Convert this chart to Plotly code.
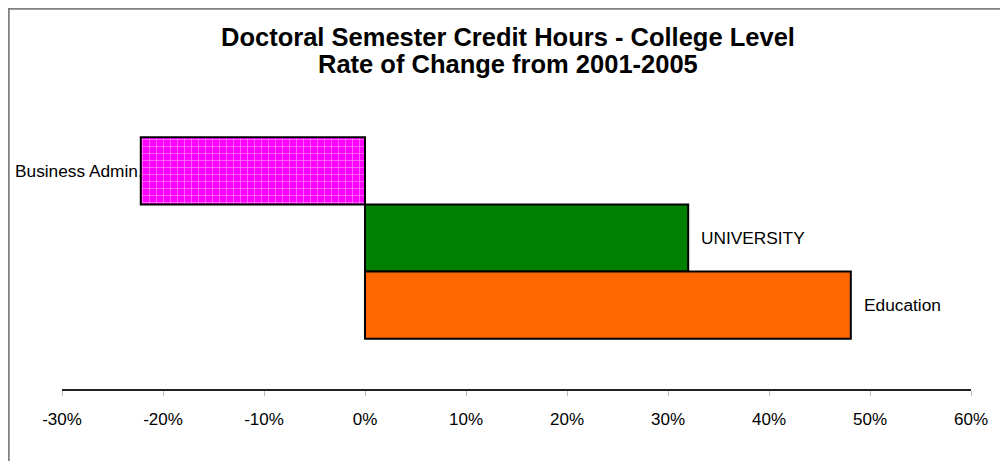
import plotly.graph_objects as go

categories = ["Business Admin.", "UNIVERSITY", "Education"]
rates = [-0.222, 0.320, 0.481]
bar_colors = ["#FF00FF", "#008000", "#FF6600"]
bar_patterns = ["+", "", ""]
tick_values = [-0.3, -0.2, -0.1, 0.0, 0.1, 0.2, 0.3, 0.4, 0.5, 0.6]
tick_labels = ["-30%", "-20%", "-10%", "0%", "10%", "20%", "30%", "40%", "50%", "60%"]
title_lines = ["Doctoral Semester Credit Hours - College Level", "Rate of Change from 2001-2005"]

# page has an 8px body margin, so the figure is drawn at (8, 8)
W, H = 1000, 453
L, R, T, B = 54, 37, 79, 72
pw, ph = W - L - R, H - T - B

fig = go.Figure()
fig.add_trace(go.Bar(
    y=categories, x=rates, orientation="h", width=1,
    marker=dict(color=bar_colors, line=dict(color="black", width=2),
                pattern=dict(shape=bar_patterns, fgcolor="white", bgcolor="#FF00FF",
                             size=7, solidity=0.2, fillmode="overlay")),
    hoverinfo="skip",
))

for c, v in zip(categories, rates):
    fig.add_annotation(
        x=v, y=c, text=c, showarrow=False,
        xanchor="left" if v >= 0 else "right",
        xshift=11 if v >= 0 else 4,
        font=dict(family="Liberation Sans, Arial", size=17.3, color="black"),
    )

for i, line in enumerate(title_lines):
    fig.add_annotation(
        xref="paper", yref="paper", x=(W / 2 - L) / pw,
        y=1 + (T - (29 + 27 * i)) / ph, yanchor="middle", xanchor="center",
        text="<b>" + line + "</b>", showarrow=False,
        font=dict(family="Liberation Sans, Arial", size=25.5, color="black"),
    )

fig.update_layout(
    width=W, height=H,
    margin=dict(l=L, r=R, t=T, b=B),
    paper_bgcolor="white", plot_bgcolor="white",
    showlegend=False,
    xaxis=dict(
        range=[-0.3, 0.6], tickvals=tick_values, ticktext=tick_labels,
        showgrid=False, zeroline=False,
        showline=True, linecolor="#222222", linewidth=1.5,
        ticks="outside", ticklen=5, tickcolor="#BBBBBB", tickwidth=1,
        ticklabelstandoff=9,
        tickfont=dict(family="Liberation Sans, Arial", size=17, color="black"),
    ),
    yaxis=dict(
        categoryorder="array", categoryarray=categories,
        range=[3.25, -1.25], showticklabels=False, showgrid=False,
        zeroline=False, showline=False, ticks="",
    ),
    shapes=[dict(
        type="path", xref="paper", yref="paper",
        path="M {x0},{y0} L {x0},{y1} L {x2},{y1}".format(
            x0=(0.5 - L) / pw, y0=-(B + 10) / ph, y1=1 + (T - 0.5) / ph, x2=1 + (R + 10) / pw),
        line=dict(color="#808080", width=2.5),
    )],
)

fig.write_html("out.html")
